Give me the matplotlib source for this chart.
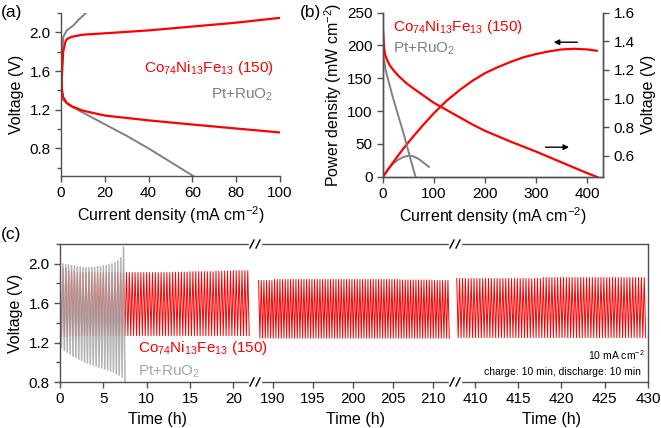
import matplotlib
matplotlib.use('Agg')
import matplotlib.pyplot as plt
import numpy as np
from matplotlib.lines import Line2D
from matplotlib.patches import Rectangle

plt.rcParams['font.family'] = ['Liberation Sans', 'DejaVu Sans']
plt.rcParams['mathtext.fontset'] = 'custom'
plt.rcParams['mathtext.rm'] = 'Liberation Sans'
plt.rcParams['mathtext.it'] = 'Liberation Sans:italic'
plt.rcParams['mathtext.default'] = 'regular'

RED = '#ff0000'
GREY = '#808080'
LGREY = '#a6a6a6'
SPINE = '#505050'

# ---- (a) charge / discharge polarization ----
a_red_chg_i = [0, 0.3, 1, 2, 2.6, 5, 10, 20, 40, 60, 80, 100]
a_red_chg_v = [1.33, 1.5, 1.8, 1.9, 1.93, 1.955, 1.976, 1.99, 2.02, 2.06, 2.10, 2.15]
a_red_dis_i = [0, 0.5, 1, 2.6, 5, 10, 20, 40, 60, 80, 100]
a_red_dis_v = [1.6, 1.40, 1.33, 1.27, 1.235, 1.19, 1.14, 1.09, 1.047, 1.006, 0.965]
a_pt_chg_i = [0, 0.5, 1, 2.6, 5.6, 8, 11.4]
a_pt_chg_v = [1.33, 1.75, 1.95, 2.02, 2.07, 2.13, 2.2]
a_pt_dis_i = [0, 1, 2.6, 5, 10, 15, 20, 30, 40, 50, 60.4]
a_pt_dis_v = [1.33, 1.30, 1.27, 1.23, 1.17, 1.11, 1.05, 0.93, 0.80, 0.66, 0.515]

# ---- (b) power density / discharge polarization ----
b_red_i = [0, 20, 40, 60, 80, 100, 125, 150, 175, 200, 225, 250, 275, 300, 325, 350, 375, 400, 419]
b_red_p = [0, 22, 43, 62, 80, 97, 116, 132, 146, 158, 167, 175, 182, 187, 191, 194, 195, 194, 192]
b_red_vi = [0, 1, 2, 4, 7, 12, 20, 30, 45, 60, 80, 100, 125, 150, 175, 200, 250, 300, 350, 400, 420]
b_red_v = [1.48, 1.42, 1.36, 1.31, 1.28, 1.24, 1.20, 1.16, 1.11, 1.07, 1.02, 0.97, 0.92, 0.87,
           0.82, 0.775, 0.70, 0.63, 0.555, 0.48, 0.452]
b_pt_i = [0, 10, 20, 30, 40, 50, 60, 70, 80, 90]
b_pt_p = [0, 12, 20, 26, 30, 32, 31, 27, 21, 15]
b_pt_vi = [0, 5, 20, 40, 60, 70, 90]
b_pt_v = [1.33, 1.2, 1.0, 0.76, 0.5, 0.38, 0.17]

# ---- (c) cycling at 10 mA cm-2 (3 cycles per hour) ----
# segment 1, one value per hour (0-22 h)
c1_red_up = [1.96, 1.93, 1.91, 1.91, 1.91, 1.91, 1.91, 1.91, 1.91, 1.91, 1.91,
             1.91, 1.91, 1.915, 1.915, 1.92, 1.92, 1.92, 1.925, 1.925, 1.93, 1.93]
c1_red_lo = [1.26, 1.27, 1.27, 1.27, 1.27, 1.27, 1.27, 1.27, 1.27, 1.27, 1.27,
             1.27, 1.27, 1.27, 1.27, 1.27, 1.27, 1.27, 1.27, 1.27, 1.27, 1.27]
# Pt+RuO2, one value per cycle
c1_pt_up = [2.0, 2.0, 1.99, 1.99, 1.98, 1.98, 1.97, 1.97, 1.96, 1.96, 1.96, 1.96,
            1.96, 1.97, 1.97, 1.98, 1.98, 1.99, 2.0, 2.01, 2.03, 2.06, 2.17]
c1_pt_lo = [1.15, 1.12, 1.10, 1.08, 1.06, 1.05, 1.03, 1.02, 1.0, 0.99, 0.98, 0.97,
            0.96, 0.95, 0.94, 0.93, 0.92, 0.91, 0.90, 0.88, 0.87, 0.85, 0.80]
# segment 2, one value per 2 h starting at 188.2 h
c2_red_up = [1.83, 1.84, 1.84, 1.84, 1.84, 1.84, 1.84, 1.84, 1.84, 1.835, 1.835, 1.83]
c2_red_lo = [1.245, 1.245, 1.245, 1.245, 1.245, 1.245, 1.245, 1.245, 1.245, 1.245, 1.245, 1.245]
# segment 3, one value per 2 h starting at 407.9 h
c3_red_up = [1.85, 1.85, 1.85, 1.85, 1.85, 1.86, 1.86, 1.86, 1.86, 1.86, 1.86]
c3_red_lo = [1.25, 1.25, 1.25, 1.25, 1.25, 1.25, 1.25, 1.25, 1.25, 1.25, 1.25]

seg_lims = [(0, 22.5), (187.75, 212.75), (407.7, 430)]
seg_ticks = [[0, 5, 10, 15, 20], [190, 195, 200, 205, 210], [410, 415, 420, 425, 430]]

co_label = r'Co$_{74}$Ni$_{13}$Fe$_{13}$ (150)'
pt_label = r'Pt+RuO$_2$'


def gcd(t0, ups, los, n_per):
    # 10 min charge / 10 min discharge, drawn as peak -> trough
    t, v = [], []
    k = 0
    for u, l in zip(ups, los):
        for j in range(n_per):
            ts = t0 + k / 3.0
            t += [ts, ts + 1 / 6.0]
            v += [u, l]
            k += 1
    return t, v


W, H = 661, 428
fig = plt.figure(figsize=(W / 100, H / 100), dpi=100)


def px(l, t, r, b):
    return [l / W, 1 - b / H, (r - l) / W, (b - t) / H]


def style(ax):
    for s in ax.spines.values():
        s.set_color(SPINE)
        s.set_linewidth(1.0)
    ax.tick_params(which='both', direction='out', color=SPINE, labelsize=11, width=1.0)
    ax.tick_params(which='major', length=4)
    ax.tick_params(which='minor', length=3)


FS = 11.5
LFS = 11

# (a)
axa = fig.add_axes(px(61, 13, 280, 176))
style(axa)
axa.spines['top'].set_visible(False)
axa.spines['right'].set_visible(False)
axa.plot(a_pt_chg_i, a_pt_chg_v, color=GREY, lw=1.4)
axa.plot(a_pt_dis_i, a_pt_dis_v, color=GREY, lw=1.4)
axa.plot(a_red_chg_i, a_red_chg_v, color=RED, lw=1.6)
axa.plot(a_red_dis_i, a_red_dis_v, color=RED, lw=1.6)
axa.set_xlim(0, 100)
axa.set_ylim(0.515, 2.2)
axa.set_xticks([0, 20, 40, 60, 80, 100])
axa.set_yticks([0.8, 1.2, 1.6, 2.0])
axa.set_yticks([0.6, 1.0, 1.4, 1.8, 2.2], minor=True)
axa.set_xlabel(r'Current density (mA cm$^{-2}$)', fontsize=FS, labelpad=3)
axa.set_ylabel('Voltage (V)', fontsize=FS, labelpad=4)
axa.text(0.97, 0.66, co_label, color=RED, fontsize=LFS, ha='right', va='center',
         transform=axa.transAxes)
axa.text(0.97, 0.50, pt_label, color=GREY, fontsize=LFS, ha='right', va='center',
         transform=axa.transAxes)
fig.text(1 / W, 1 - 12 / H, '(a)', fontsize=12.5, va='center', ha='left')

# (b)
axb = fig.add_axes(px(383, 12.7, 603, 176.7))
style(axb)
axb.spines['top'].set_visible(False)
axb.plot(b_pt_i, b_pt_p, color=GREY, lw=1.4)
axb.plot(b_red_i, b_red_p, color=RED, lw=1.6)
axb.set_xlim(0, 431)
axb.set_ylim(0, 250)
axb.set_xticks([0, 100, 200, 300, 400])
axb.set_yticks([0, 50, 100, 150, 200, 250])
axb.set_xlabel(r'Current density (mA cm$^{-2}$)', fontsize=FS, labelpad=3)
axb.set_ylabel(r'Power density (mW cm$^{-2}$)', fontsize=FS, labelpad=2)
axb2 = axb.twinx()
style(axb2)
axb2.spines['top'].set_visible(False)
axb2.plot(b_pt_vi, b_pt_v, color=GREY, lw=1.4)
axb2.plot(b_red_vi, b_red_v, color=RED, lw=1.6)
axb2.set_ylim(0.455, 1.6)
axb2.set_yticks([0.6, 0.8, 1.0, 1.2, 1.4, 1.6])
axb2.set_ylabel('Voltage (V)', fontsize=FS, labelpad=5)
axb.annotate('', xy=(329, 205), xytext=(386, 205),
             arrowprops=dict(arrowstyle='-|>', color='black', lw=1.0, mutation_scale=8))
axb.annotate('', xy=(370, 45), xytext=(313, 45),
             arrowprops=dict(arrowstyle='-|>', color='black', lw=1.0, mutation_scale=8))
axb.text(0.045, 0.91, co_label, color=RED, fontsize=LFS, ha='left', va='center',
         transform=axb.transAxes)
axb.text(0.045, 0.78, pt_label, color=GREY, fontsize=LFS, ha='left', va='center',
         transform=axb.transAxes)
fig.text(300 / W, 1 - 12 / H, '(b)', fontsize=12.5, va='center', ha='left')

# (c)
edges = [(60, 255), (255, 455), (455, 648)]
axs = []
for i, (l, r) in enumerate(edges):
    ax = fig.add_axes(px(l, 244, r, 382))
    style(ax)
    ax.set_xlim(*seg_lims[i])
    ax.set_ylim(0.8, 2.2)
    ax.set_xticks(seg_ticks[i])
    ax.set_xlabel('Time (h)', fontsize=FS, labelpad=4)
    ax.tick_params(axis='x', top=False)
    if i > 0:
        ax.spines['left'].set_visible(False)
        ax.tick_params(axis='y', left=False, labelleft=False, which='both')
    else:
        ax.set_yticks([0.8, 1.2, 1.6, 2.0])
        ax.set_yticks([1.0, 1.4, 1.8, 2.2], minor=True)
        ax.set_ylabel('Voltage (V)', fontsize=FS, labelpad=4)
    if i < 2:
        ax.spines['right'].set_visible(False)
    ax.tick_params(axis='y', right=False, which='both')
    axs.append(ax)

t, v = gcd(0.0, c1_red_up, c1_red_lo, 3)
axs[0].plot(t, v, color=RED, lw=0.7)
t, v = gcd(0.0, c1_pt_up, c1_pt_lo, 1)
axs[0].plot(t, v, color=LGREY, lw=1.1, alpha=0.85)
t, v = gcd(188.2, c2_red_up, c2_red_lo, 6)
axs[1].plot(t, v, color=RED, lw=0.7)
t, v = gcd(407.9, c3_red_up, c3_red_lo, 6)
axs[2].plot(t, v, color=RED, lw=0.7)

fig.text(138 / W, 1 - 348 / H, co_label, color=RED, fontsize=LFS, ha='left', va='center')
fig.text(138 / W, 1 - 372 / H, pt_label, color=LGREY, fontsize=LFS, ha='left', va='center')
fig.text(645 / W, 1 - 355 / H, r'10 mA cm$^{-2}$', fontsize=7.5, ha='right', va='center')
fig.text(641 / W, 1 - 372 / H, 'charge: 10 min, discharge: 10 min', fontsize=7.5,
         ha='right', va='center')
fig.text(1 / W, 1 - 235 / H, '(c)', fontsize=12.5, va='center', ha='left')

# break marks on the broken time axis
for xb in [255, 455]:
    for yb in [244, 382]:
        fig.add_artist(Rectangle(((xb - 6) / W, (H - yb - 2) / H), 12 / W, 4 / H,
                                 transform=fig.transFigure, color='white', zorder=5))
        for dx in [-3, 3]:
            fig.add_artist(Line2D([(xb + dx - 2) / W, (xb + dx + 2) / W],
                                  [(H - yb - 4) / H, (H - yb + 4) / H],
                                  transform=fig.transFigure, color='black', lw=1.0, zorder=6))

fig.savefig('out.png', dpi=100)
